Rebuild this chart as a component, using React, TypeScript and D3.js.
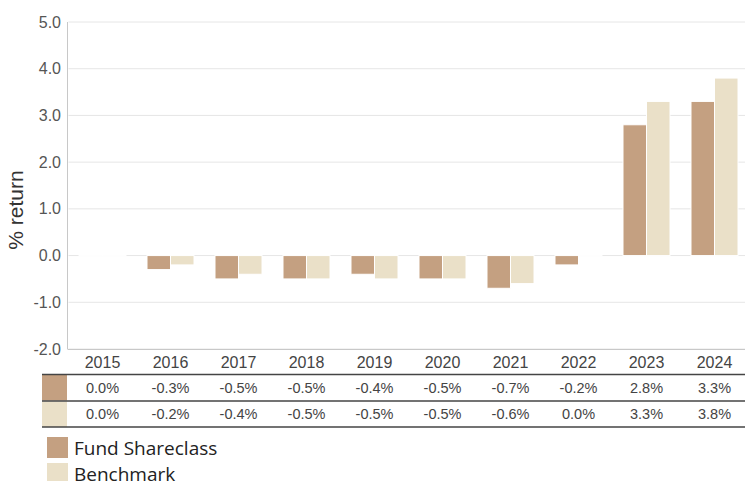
import React from "react";
import * as d3 from "d3";

const years = ["2015","2016","2017","2018","2019","2020","2021","2022","2023","2024"];
const fund = [0.0,-0.3,-0.5,-0.5,-0.4,-0.5,-0.7,-0.2,2.8,3.3];
const bench = [0.0,-0.2,-0.4,-0.5,-0.5,-0.5,-0.6,0.0,3.3,3.8];
const fundLabels = ["0.0%","-0.3%","-0.5%","-0.5%","-0.4%","-0.5%","-0.7%","-0.2%","2.8%","3.3%"];
const benchLabels = ["0.0%","-0.2%","-0.4%","-0.5%","-0.5%","-0.5%","-0.6%","0.0%","3.3%","3.8%"];
const yTicks = [-2,-1,0,1,2,3,4,5];
const seriesNames = ["Fund Shareclass","Benchmark"];
const colors = ["#C4A081","#EAE0C8"];

export default function App() {
  const W = 745, H = 481;
  const x0 = 68.5, x1 = 748.5;
  const x = d3.scaleBand().domain(years).range([x0, x1]).paddingInner(0).paddingOuter(0);
  const y = d3.scaleLinear().domain([-2, 5]).range([349, 22]);
  const step = x.bandwidth();
  const groupPad = 10.5;
  const inner = d3.scaleBand().domain(["f","b"]).range([groupPad, step - groupPad]);
  const series = [fund, bench];
  const labels = [fundLabels, benchLabels];
  const font = "'Liberation Sans', Arial, sans-serif";
  const rowY = [375, 401.5];
  const rowH = 25.5;
  return (
    <svg width={W} height={H} style={{position:"absolute", left:0, top:0, background:"#fff"}}>
      {yTicks.map(t => (
        <g key={t}>
          <line x1={x0} x2={W} y1={y(t)} y2={y(t)} stroke="#e6e6e6" strokeWidth={1} />
          <text x={61} y={y(t)} dy="0.35em" textAnchor="end" fontFamily={font} fontSize={16} fill="#555">{t.toFixed(1)}</text>
        </g>
      ))}
      <line x1={67.5} x2={67.5} y1={22} y2={349} stroke="#c8c8c8" />
      <line x1={67.5} x2={W} y1={349.5} y2={349.5} stroke="#c8c8c8" />
      {series.map((s, si) => s.map((v, i) => {
        const bx = x(years[i])! + inner(si === 0 ? "f" : "b")!;
        const top = y(Math.max(0, v));
        const h = Math.max(Math.abs(y(v) - y(0)), 0.01);
        return <rect key={si + "-" + i} x={bx} y={top} width={inner.bandwidth()} height={h} fill={colors[si]} stroke="#fff" strokeWidth={1} />;
      }))}
      <text transform={`translate(23,210) rotate(-90)`} textAnchor="middle" fontFamily={font} fontSize={21} fill="#333">% return</text>
      {years.map(yr => (
        <text key={yr} x={x(yr)! + step / 2} y={362} dy="0.35em" textAnchor="middle" fontFamily={font} fontSize={16} fill="#444">{yr}</text>
      ))}
      {rowY.map((ry, ri) => (
        <g key={ri}>
          <rect x={42} y={ry} width={25} height={rowH} fill={colors[ri]} />
          {labels[ri].map((l, i) => (
            <text key={i} x={x(years[i])! + step / 2} y={ry + rowH / 2} dy="0.35em" textAnchor="middle" fontFamily={font} fontSize={14.5} fill="#444">{l}</text>
          ))}
        </g>
      ))}
      {[374.5, 401, 427].map((ly, i) => (
        <line key={i} x1={42} x2={W} y1={ly} y2={ly} stroke="#444" strokeWidth={1.6} />
      ))}
      {seriesNames.map((n, i) => (
        <g key={n}>
          <rect x={47} y={437 + i * 26} width={21} height={21} fill={colors[i]} />
          <text x={74} y={448 + i * 26} dy="0.35em" fontFamily="'Open Sans', sans-serif" fontSize={19} fill="#222">{n}</text>
        </g>
      ))}
    </svg>
  );
}
